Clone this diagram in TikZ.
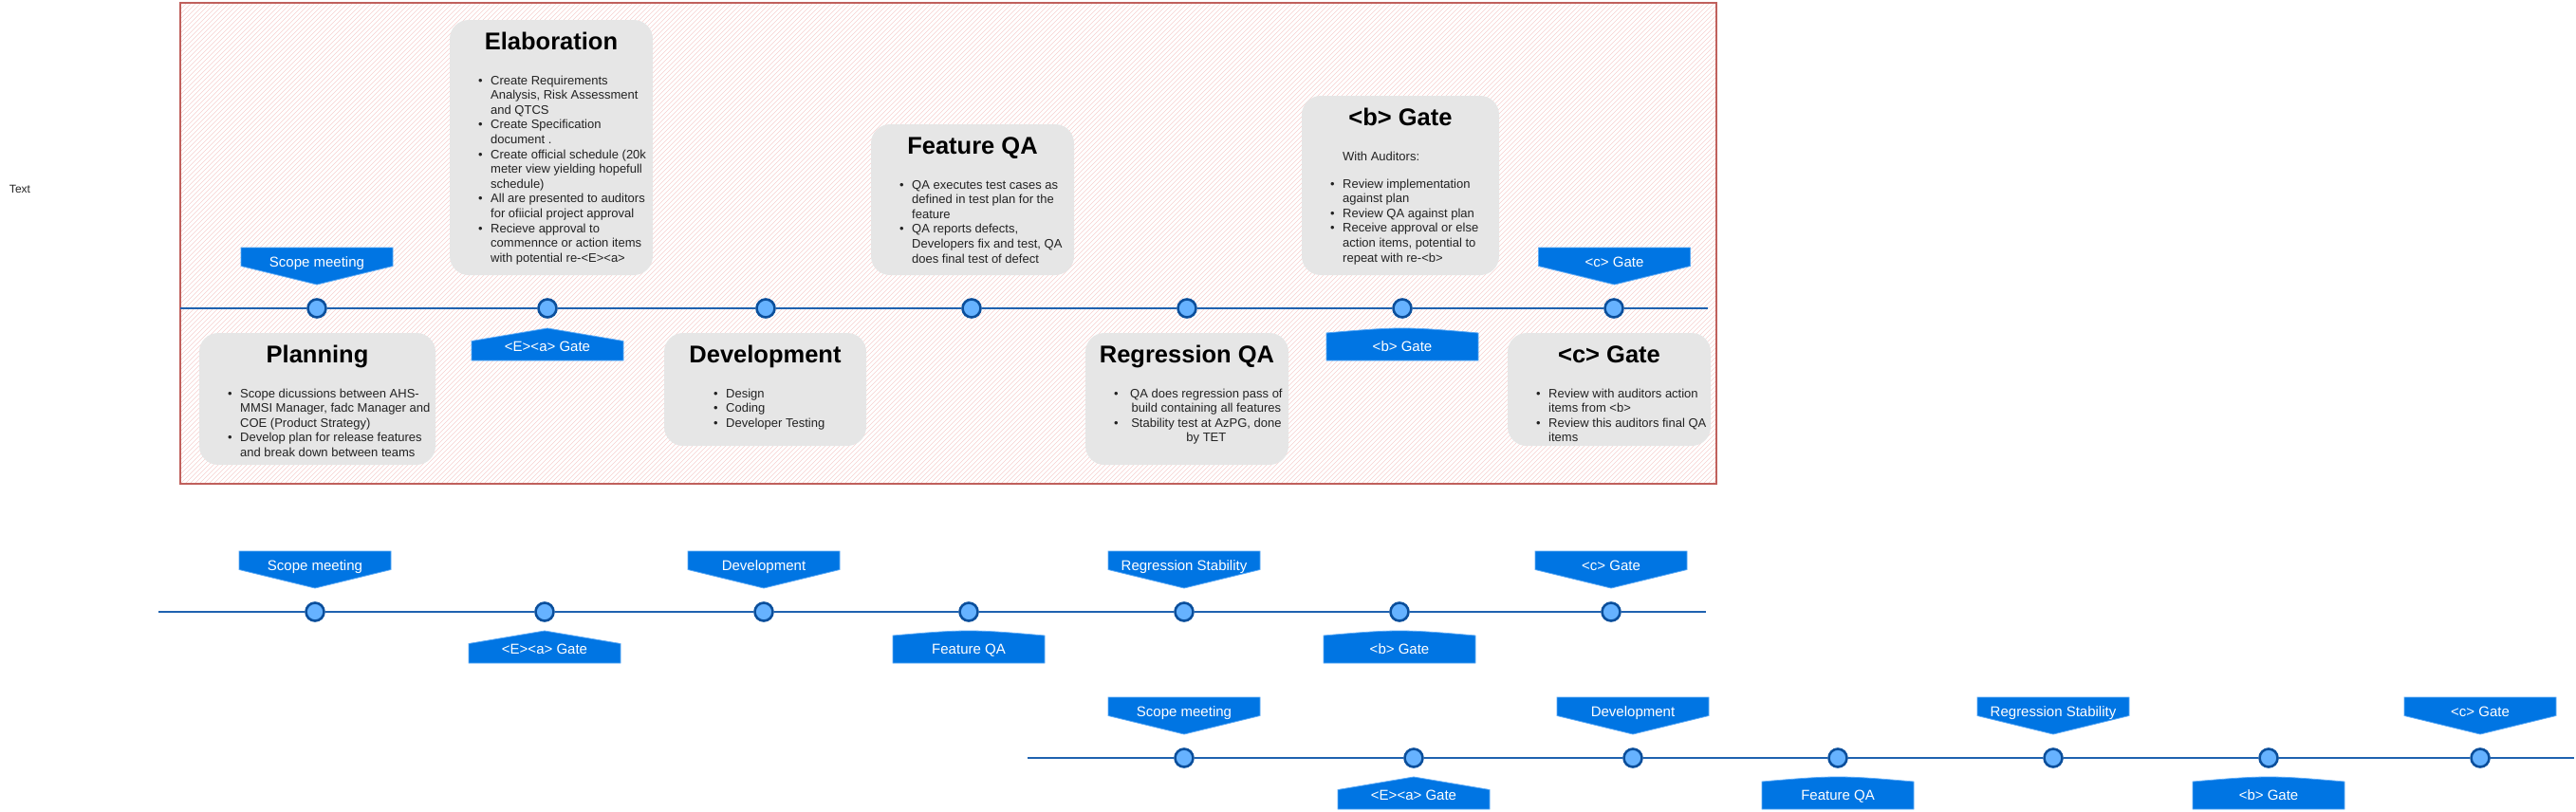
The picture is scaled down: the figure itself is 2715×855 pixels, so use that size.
\documentclass[tikz,border=0pt]{standalone}
\usepackage{fontspec}
\setmainfont{Liberation Sans}
\usepackage{array}
\definecolor{hatchc}{HTML}{F7D0CE}
\definecolor{redb}{HTML}{C0605C}
\definecolor{boxgray}{HTML}{E6E6E6}
\definecolor{bodyc}{HTML}{222222}
\definecolor{circd}{HTML}{0B4F9C}
\definecolor{circf}{HTML}{66B2FF}
\definecolor{linec}{HTML}{1F62B0}
\definecolor{callb}{HTML}{0075E3}
\definecolor{calle}{HTML}{5AA8F5}
\tikzset{
  hatchln/.style={draw=hatchc, line width=0.65pt},
  gbox/.style={fill=boxgray, rounded corners=20pt},
  ttl/.style={font=\bfseries\fontsize{25.5}{30}\selectfont, text=black, inner sep=0pt, anchor=base},
  body/.style={font=\fontsize{13}{15.6}\selectfont, text=bodyc, inner sep=0pt, anchor=base west},
  dot/.style={circle, draw=circd, fill=circf, line width=2.6pt, minimum size=19pt, inner sep=0pt},
  tl/.style={draw=linec, line width=2.2pt},
  cotext/.style={text=white, font=\fontsize{15}{18}\selectfont, inner sep=0pt, anchor=base},
  callshape/.style={fill=callb, draw=calle, line width=0.8pt},
}
% down-pointing callout: name, centre x, top y, text
\newcommand{\cdown}[4]{%
  \path[callshape] (#2-80,#3) -- (#2+80,#3) -- (#2+80,#3+19.5) -- (#2,#3+39) -- (#2-80,#3+19.5) -- cycle;
  \node[cotext] (#1) at (#2,#3+20) {#4};}
% up-pointing callout with pointed top
\newcommand{\cupP}[4]{%
  \path[callshape] (#2,#3) -- (#2+80,#3+13.5) -- (#2+80,#3+34) -- (#2-80,#3+34) -- (#2-80,#3+13.5) -- cycle;
  \node[cotext] (#1) at (#2,#3+24.5) {#4};}
% up-pointing callout with flat curved top
\newcommand{\cupC}[4]{%
  \path[callshape] (#2-80,#3+5) .. controls (#2-40,#3+1.5) and (#2-20,#3) .. (#2,#3)
    .. controls (#2+20,#3) and (#2+40,#3+1.5) .. (#2+80,#3+5) -- (#2+80,#3+34) -- (#2-80,#3+34) -- cycle;
  \node[cotext] (#1) at (#2,#3+24.5) {#4};}
\begin{document}
\begin{tikzpicture}[x=1pt, y=-1pt]
\useasboundingbox (0,0) rectangle (2715,855);
\node[font=\fontsize{12}{14}\selectfont, text=bodyc, inner sep=0pt] (lbl) at (21,199) {Text};

% hatched frame
\begin{scope}
  \clip (190,3) rectangle (1809,510);
  \foreach \k in {-320,-315,...,1810} {\draw[hatchln] (\k,510) -- (\k+507,3);}
\end{scope}
\draw[draw=redb, line width=1.3pt] (190,3) rectangle (1809,510);

% grey boxes
\path[gbox] (210,351) rectangle (459,490);
\path[gbox] (474,21) rectangle (688,290);
\path[gbox] (700,351) rectangle (913,470);
\path[gbox] (918,131) rectangle (1132,290);
\path[gbox] (1144,351) rectangle (1358,490);
\path[gbox] (1372,101) rectangle (1580,290);
\path[gbox] (1589,351) rectangle (1803,470);

% titles
\node[ttl] (tplan) at (334.5,382) {Planning};
\node[ttl] (telab) at (581,52) {Elaboration};
\node[ttl] (tdev) at (806.5,382) {Development};
\node[ttl] (tfqa) at (1025,162) {Feature QA};
\node[ttl] (treg) at (1251,382) {Regression QA};
\node[ttl] (tbg) at (1476,132) {<b> Gate};
\node[ttl] (tcg) at (1696,382) {<c> Gate};

% bodies
\node[body] (bplan) at (240,419) {\begin{tabular}[t]{@{}p{13pt}@{}l@{}}
\textbullet & Scope dicussions between AHS-\\
 & MMSI Manager, fadc Manager and\\
 & COE (Product Strategy)\\
\textbullet & Develop plan for release features\\
 & and break down between teams\end{tabular}};
\node[body] (belab) at (504,89) {\begin{tabular}[t]{@{}p{13pt}@{}l@{}}
\textbullet & Create Requirements\\
 & Analysis, Risk Assessment\\
 & and QTCS\\
\textbullet & Create Specification\\
 & document .\\
\textbullet & Create official schedule (20k\\
 & meter view yielding hopefull\\
 & schedule)\\
\textbullet & All are presented to auditors\\
 & for ofiicial project approval\\
\textbullet & Recieve approval to\\
 & commennce or action items\\
 & with potential re-<E><a>\end{tabular}};
\node[body] (bdev) at (752,419) {\begin{tabular}[t]{@{}p{13pt}@{}l@{}}
\textbullet & Design\\
\textbullet & Coding\\
\textbullet & Developer Testing\end{tabular}};
\node[body] (bfqa) at (948,199) {\begin{tabular}[t]{@{}p{13pt}@{}l@{}}
\textbullet & QA executes test cases as\\
 & defined in test plan for the\\
 & feature\\
\textbullet & QA reports defects,\\
 & Developers fix and test, QA\\
 & does final test of defect\end{tabular}};
\node[body] (breg) at (1174,419) {\begin{tabular}[t]{@{}p{17pt}@{}c@{}}
\textbullet & QA does regression pass of\\
 & build containing all features\\
\textbullet & Stability test at AzPG, done\\
 & by TET\end{tabular}};
\node[body] (bwith) at (1415,169) {With Auditors:};
\node[body] (bbg) at (1402,198) {\begin{tabular}[t]{@{}p{13pt}@{}l@{}}
\textbullet & Review implementation\\
 & against plan\\
\textbullet & Review QA against plan\\
\textbullet & Receive approval or else\\
 & action items, potential to\\
 & repeat with re-<b>\end{tabular}};
\node[body] (bcg) at (1619,419) {\begin{tabular}[t]{@{}p{13pt}@{}l@{}}
\textbullet & Review with auditors action\\
 & items from <b>\\
\textbullet & Review this auditors final QA\\
 & items\end{tabular}};

% top timeline
\coordinate (ts) at (190,325);
\coordinate (te) at (1800,325);
\node[dot] (t1) at (334,325) {};
\node[dot] (t2) at (577,325) {};
\node[dot] (t3) at (807,325) {};
\node[dot] (t4) at (1024,325) {};
\node[dot] (t5) at (1251,325) {};
\node[dot] (t6) at (1478,325) {};
\node[dot] (t7) at (1701,325) {};
\draw[tl] (ts) -- (t1) -- (t2) -- (t3) -- (t4) -- (t5) -- (t6) -- (t7) -- (te);
\cdown{sa}{334}{261}{Scope meeting}
\cupP{sb}{577}{346}{<E><a> Gate}
\cupC{sc}{1478}{346}{<b> Gate}
\cdown{sd}{1701.5}{261}{<c> Gate}

% middle timeline
\coordinate (ms) at (167,645);
\coordinate (me) at (1798,645);
\node[dot] (m1) at (332,645) {};
\node[dot] (m2) at (574,645) {};
\node[dot] (m3) at (805,645) {};
\node[dot] (m4) at (1021,645) {};
\node[dot] (m5) at (1248,645) {};
\node[dot] (m6) at (1475,645) {};
\node[dot] (m7) at (1698,645) {};
\draw[tl] (ms) -- (m1) -- (m2) -- (m3) -- (m4) -- (m5) -- (m6) -- (m7) -- (me);
\cdown{ma}{332}{581}{Scope meeting}
\cupP{mb}{574}{665}{<E><a> Gate}
\cdown{mc}{805}{581}{Development}
\cupC{md}{1021}{665}{Feature QA}
\cdown{me2}{1248}{581}{Regression Stability}
\cupC{mf}{1475}{665}{<b> Gate}
\cdown{mg}{1698}{581}{<c> Gate}

% bottom timeline
\coordinate (bs) at (1083,799);
\coordinate (be) at (2713,799);
\node[dot] (b1) at (1248,799) {};
\node[dot] (b2) at (1490,799) {};
\node[dot] (b3) at (1721,799) {};
\node[dot] (b4) at (1937,799) {};
\node[dot] (b5) at (2164,799) {};
\node[dot] (b6) at (2391,799) {};
\node[dot] (b7) at (2614,799) {};
\draw[tl] (bs) -- (b1) -- (b2) -- (b3) -- (b4) -- (b5) -- (b6) -- (b7) -- (be);
\cdown{ba}{1248}{735}{Scope meeting}
\cupP{bb}{1490}{819}{<E><a> Gate}
\cdown{bc}{1721}{735}{Development}
\cupC{bd}{1937}{819}{Feature QA}
\cdown{be2}{2164}{735}{Regression Stability}
\cupC{bf}{2391}{819}{<b> Gate}
\cdown{bg}{2614}{735}{<c> Gate}
\end{tikzpicture}
\end{document}
